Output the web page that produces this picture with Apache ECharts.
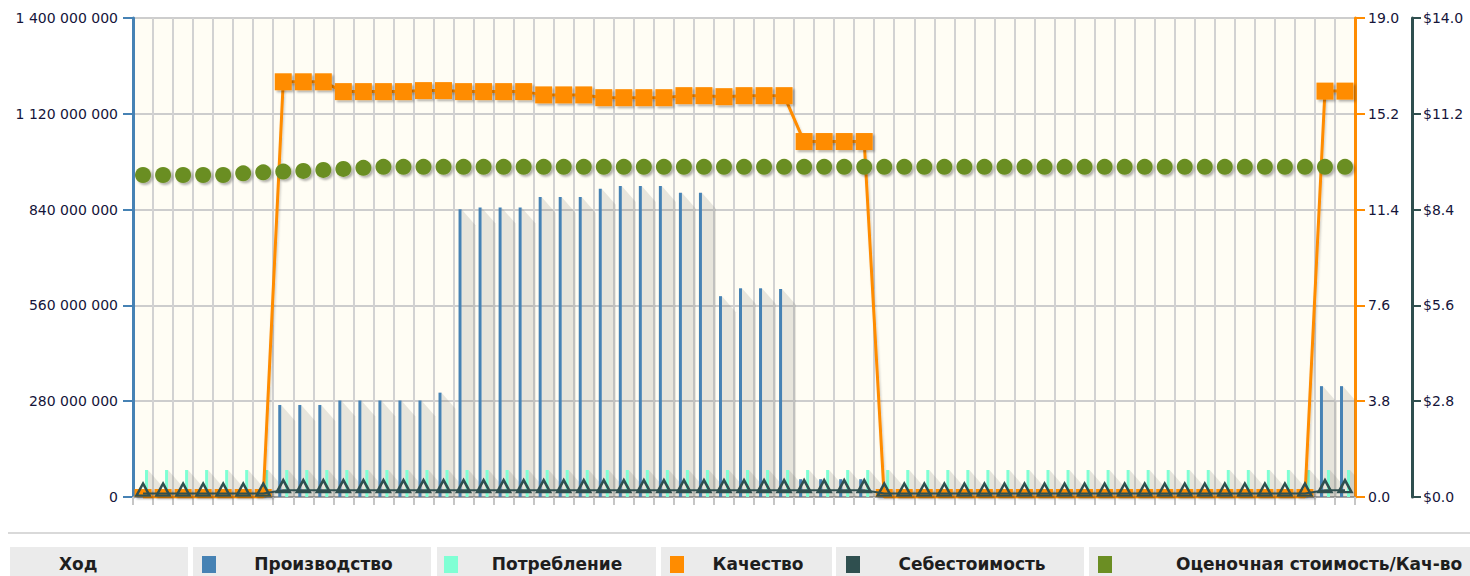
<!DOCTYPE html>
<html>
<head>
<meta charset="utf-8">
<script src="https://cdn.jsdelivr.net/npm/echarts@6/dist/echarts.min.js"></script>
<style>
html,body{margin:0;padding:0;background:#ffffff;}
#chart{width:1470px;height:576px;}
</style>
</head>
<body>
<div id="chart"></div>
<script>
// ---- data ----
const categories = ['1','2','3','4','5','6','7','8','9','10','11','12','13','14','15','16','17','18','19','20',
  '21','22','23','24','25','26','27','28','29','30','31','32','33','34','35','36','37','38','39','40',
  '41','42','43','44','45','46','47','48','49','50','51','52','53','54','55','56','57','58','59','60','61'];

const seriesNames = ['Производство', 'Потребление', 'Качество', 'Себестоимость', 'Оценочная стоимость/Кач-во'];
const xAxisTitle = 'Ход';

const production = [0,0,0,0,0,0,0,
  269000000,269000000,269000000,
  282000000,282000000,282000000,282000000,282000000,
  305000000,
  841000000,846000000,846000000,846000000,
  877000000,877000000,877000000,
  901000000,
  909000000,909000000,909000000,
  889000000,889000000,
  587000000,
  610000000,610000000,608000000,
  52000000,52000000,52000000,52000000,
  0,0,0,0,0,0,0,0,0,0,0,0,0,0,0,0,0,0,0,0,0,0,
  324000000,324000000];

const consumption = [79000000,79000000,79000000,79000000,79000000,79000000,79000000,79000000,79000000,79000000,
  79000000,79000000,79000000,79000000,79000000,79000000,79000000,79000000,79000000,79000000,
  79000000,79000000,79000000,79000000,79000000,79000000,79000000,79000000,79000000,79000000,
  79000000,79000000,79000000,79000000,79000000,79000000,79000000,79000000,79000000,79000000,
  79000000,79000000,79000000,79000000,79000000,79000000,79000000,79000000,79000000,79000000,
  79000000,79000000,79000000,79000000,79000000,79000000,79000000,79000000,79000000,79000000,79000000];

const quality = [0,0,0,0,0,0,0,
  16.47,16.47,16.47,
  16.08,16.08,16.08,16.08,
  16.12,16.12,
  16.08,16.08,16.08,16.08,
  15.95,15.95,15.95,
  15.84,15.84,15.84,15.84,
  15.92,15.92,
  15.88,
  15.92,15.92,15.92,
  14.1,14.1,14.1,14.1,
  0,0,0,0,0,0,0,0,0,0,0,0,0,0,0,0,0,0,0,0,0,0,
  16.1,16.1];

const cost = [0.1,0.1,0.1,0.1,0.1,0.1,0.1,
  0.2,0.2,0.2,0.2,0.2,0.2,0.2,0.2,0.2,0.2,0.2,0.2,0.2,0.2,0.2,0.2,0.2,0.2,0.2,0.2,
  0.2,0.2,0.2,0.2,0.2,0.2,0.2,0.2,0.2,0.2,
  0.1,0.1,0.1,0.1,0.1,0.1,0.1,0.1,0.1,0.1,0.1,0.1,0.1,0.1,0.1,0.1,0.1,0.1,0.1,0.1,0.1,0.1,
  0.2,0.2];

const estimate = [9.41,9.41,9.41,9.41,9.41,9.46,9.49,9.51,9.53,9.56,9.59,9.62,
  9.65,9.65,9.65,9.65,9.65,9.65,9.65,9.65,9.65,9.65,9.65,9.65,9.65,9.65,9.65,9.65,
  9.65,9.65,9.65,9.65,9.65,9.65,9.65,9.65,9.65,9.65,9.65,9.65,9.65,9.65,9.65,9.65,
  9.65,9.65,9.65,9.65,9.65,9.65,9.65,9.65,9.65,9.65,9.65,9.65,9.65,9.65,9.65,9.65,9.65];

// ---- axis ranges ----
const leftAxis = {min: 0, max: 1400000000, interval: 280000000};
const qualityAxis = {min: 0, max: 19, interval: 3.8};
const moneyAxis = {min: 0, max: 14, interval: 2.8};

// ---- styles ----
const C = {
  prod: '#4682B4', cons: '#7FFFD4', qual: '#FF8C00', cost: '#2F4F4F', est: '#6B8E23',
  label: '#15153a', grid: '#d2d2d2', plotBg: '#fffdf4'
};
const labelFont = {fontFamily: 'DejaVu Sans', fontSize: 14, color: C.label};
const BAR_W = 3;
const PROD_SHIFT = -3.5, CONS_SHIFT = 3.5;

function fmtSpace(v) { return String(v).replace(/\B(?=(\d{3})+(?!\d))/g, ' '); }

function shadowRenderer(shift) {
  return function (params, api) {
    const idx = api.value(0), v = api.value(1);
    if (!v) return null;
    const top = api.coord([idx, v]);
    const base = api.coord([idx, 0]);
    const x0 = top[0] + shift + BAR_W / 2;
    const L = 14, D = Math.min(16, base[1] - top[1]);
    return {
      type: 'polygon', silent: true,
      shape: {points: [[x0, top[1]], [x0 + L, top[1] + D], [x0 + L, base[1]], [x0, base[1]]]},
      style: {fill: 'rgba(110,110,100,0.17)'}
    };
  };
}

const symShadow = {shadowBlur: 2, shadowOffsetX: 2, shadowOffsetY: 2, shadowColor: 'rgba(0,0,0,0.3)'};

// ---- legend row (graphic) ----
const boxes = [
  {x: 10, w: 178, text: xAxisTitle, textX: 59, align: 'left'},
  {x: 193, w: 238, color: C.prod, sq: 202, text: seriesNames[0]},
  {x: 437, w: 219, color: C.cons, sq: 444, text: seriesNames[1]},
  {x: 661, w: 171, color: C.qual, sq: 670, text: seriesNames[2]},
  {x: 836, w: 248, color: C.cost, sq: 846, text: seriesNames[3]},
  {x: 1089, w: 400, color: C.est, sq: 1098, text: seriesNames[4], textX: 1176, align: 'left'}
];
const graphics = [{type: 'rect', silent: true, shape: {x: 8, y: 532, width: 1462, height: 2}, style: {fill: '#d9d9d9'}}];
boxes.forEach(function (b) {
  graphics.push({type: 'rect', silent: true, shape: {x: b.x, y: 547, width: b.w, height: 40}, style: {fill: '#ebebeb'}});
  let tx;
  if (b.color) {
    graphics.push({type: 'rect', silent: true, shape: {x: b.sq, y: 556, width: 14, height: 17}, style: {fill: b.color}});
  }
  if (b.align === 'left') {
    tx = b.textX;
  } else {
    tx = ((b.sq + 14) + (b.x + b.w)) / 2;
  }
  graphics.push({type: 'text', silent: true, x: tx, y: 564,
    style: {text: b.text, fill: '#1e1e1e', font: 'bold 17px "DejaVu Sans"', textAlign: b.align === 'left' ? 'left' : 'center', textVerticalAlign: 'middle'}});
});

const chart = echarts.init(document.getElementById('chart'), null, {renderer: 'svg'});
chart.setOption({
  animation: false,
  backgroundColor: '#ffffff',
  grid: {left: 133, right: 115, top: 18, bottom: 79, show: true, backgroundColor: C.plotBg, borderWidth: 0, outerBoundsMode: 'none'},
  xAxis: [{
    type: 'category', data: categories, boundaryGap: true,
    axisLine: {show: true, lineStyle: {color: '#9a9a9a', width: 2}},
    axisTick: {show: true, interval: 0, length: 8, lineStyle: {color: '#c6c6c6', width: 2}},
    axisLabel: {show: false},
    splitLine: {show: true, interval: 0, lineStyle: {color: C.grid, width: 2}}
  }, {
    type: 'category', data: categories, position: 'top',
    axisLine: {show: true, lineStyle: {color: '#a3a3a3', width: 2}},
    axisTick: {show: false}, axisLabel: {show: false}, splitLine: {show: false}
  }],
  yAxis: [{
    type: 'value', position: 'left', min: leftAxis.min, max: leftAxis.max, interval: leftAxis.interval,
    axisLine: {show: true, lineStyle: {color: C.prod, width: 3}},
    axisTick: {show: true, length: 10, lineStyle: {color: C.prod, width: 2}},
    axisLabel: Object.assign({margin: 15, formatter: fmtSpace}, labelFont),
    splitLine: {show: true, lineStyle: {color: '#cdcdcd', width: 2}}
  }, {
    type: 'value', position: 'right', min: qualityAxis.min, max: qualityAxis.max, interval: qualityAxis.interval,
    axisLine: {show: true, lineStyle: {color: C.qual, width: 3}},
    axisTick: {show: true, length: 10, lineStyle: {color: C.qual, width: 2}},
    axisLabel: Object.assign({margin: 13, formatter: function (v) { return v.toFixed(1); }}, labelFont),
    splitLine: {show: false}
  }, {
    type: 'value', position: 'right', offset: 57, min: moneyAxis.min, max: moneyAxis.max, interval: moneyAxis.interval,
    axisLine: {show: true, lineStyle: {color: C.cost, width: 3}},
    axisTick: {show: true, length: 9, lineStyle: {color: C.cost, width: 2}},
    axisLabel: Object.assign({margin: 11, formatter: function (v) { return '$' + v.toFixed(1); }}, labelFont),
    splitLine: {show: false}
  }],
  graphic: graphics,
  series: [
    {type: 'custom', name: 'shadowProd', yAxisIndex: 0, z: 1, silent: true, clip: true,
      renderItem: shadowRenderer(PROD_SHIFT), encode: {x: 0, y: 1},
      data: production.map(function (v, i) { return [i, v]; })},
    {type: 'custom', name: 'shadowCons', yAxisIndex: 0, z: 1, silent: true, clip: true,
      renderItem: shadowRenderer(CONS_SHIFT), encode: {x: 0, y: 1},
      data: consumption.map(function (v, i) { return [i, v]; })},
    {type: 'bar', name: seriesNames[0], yAxisIndex: 0, z: 3, barWidth: BAR_W, barGap: '133%',
      itemStyle: {color: C.prod}, data: production},
    {type: 'bar', name: seriesNames[1], yAxisIndex: 0, z: 3, barWidth: BAR_W, barGap: '133%',
      itemStyle: {color: C.cons}, data: consumption},
    {type: 'line', name: seriesNames[2], yAxisIndex: 1, z: 4, showAllSymbol: true,
      symbol: 'rect', symbolSize: 17,
      lineStyle: {color: C.qual, width: 3, shadowBlur: 2, shadowOffsetX: 1, shadowOffsetY: 2, shadowColor: 'rgba(0,0,0,0.2)'},
      itemStyle: Object.assign({color: C.qual}, symShadow),
      data: quality.map(function (v) { return v === 0 ? {value: v, symbolSize: [17, 8], symbolOffset: [0, -4]} : v; })},
    {type: 'line', name: seriesNames[3], yAxisIndex: 2, z: 5, showAllSymbol: true,
      symbol: 'triangle', symbolSize: [13, 12], symbolOffset: [0, -4],
      lineStyle: {color: C.cost, width: 2},
      itemStyle: {color: 'rgba(0,0,0,0)', borderColor: C.cost, borderWidth: 2.5},
      data: cost},
    {type: 'line', name: seriesNames[4], yAxisIndex: 2, z: 6, showAllSymbol: true,
      symbol: 'circle', symbolSize: 16,
      lineStyle: {width: 0, opacity: 0},
      itemStyle: Object.assign({color: C.est}, symShadow),
      data: estimate}
  ]
});
</script>
</body>
</html>
